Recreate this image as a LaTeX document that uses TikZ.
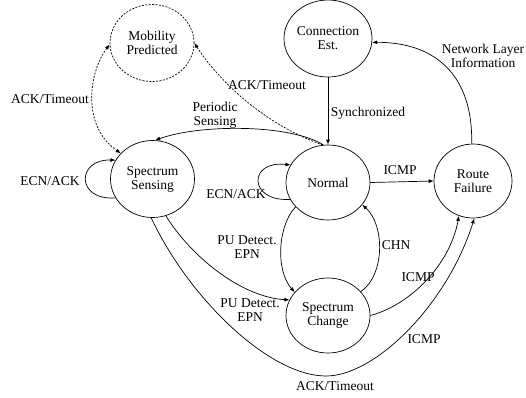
\documentclass[tikz,border=0pt]{standalone}
\usepackage{fontspec}
\setmainfont{Liberation Serif}
\usetikzlibrary{shapes.geometric,arrows.meta}
\begin{document}
\begin{tikzpicture}[x=1pt,y=-1pt,
  state/.style={draw,ellipse,line width=0.7pt,minimum width=84pt,minimum height=77pt,inner sep=0pt,align=center,font=\fontsize{13.5}{14}\selectfont},
  lbl/.style={align=center,inner sep=0pt,font=\fontsize{13.5}{14}\selectfont},
  edge/.style={line width=0.7pt,-{Latex[length=5pt,width=4pt]}},
  dashededge/.style={edge,dash pattern=on 2pt off 1.4pt}]
\useasboundingbox (0,0) rectangle (526,397);
\node[state,dashed,dash pattern=on 2pt off 1.4pt] (mob) at (152,43) {Mobility\\Predicted};
\node[state] (conn) at (328,38.5) {Connection\\Est.};
\node[state] (sens) at (152.5,179) {Spectrum\\Sensing};
\node[state,minimum height=75pt] (norm) at (328,182.5) {Normal};
\node[state,minimum width=78pt,minimum height=74pt] (route) at (473,181) {Route\\Failure};
\node[state,minimum height=75pt] (chg) at (328,315.5) {Spectrum\\Change};

% edges
\draw[dashededge,{Latex[length=5pt,width=4pt]}-{Latex[length=5pt,width=4pt]}] (mob.182) .. controls (90,70) and (80,125) .. (sens.141);
\draw[dashededge] (norm.98) .. controls (258,122) and (215,75) .. (mob.0);
\draw[edge] (conn.south) -- (norm.north);
\draw[edge] (norm.97) .. controls (290,124) and (200,124) .. (sens.86);
\draw[edge] (sens.207) .. controls (76,201) and (76,159) .. (sens.153);
\draw[edge] (norm.204) .. controls (248,202) and (248,160) .. (norm.155);
\draw[edge] (norm.east) -- (route.west);
\draw[edge] (route.92) .. controls (473,70) and (430,42) .. (conn.-5);
\draw[edge] (norm.217) .. controls (278,225) and (275,270) .. (chg.145);
\draw[edge] (chg.36) .. controls (385,275) and (385,225) .. (norm.-33);
\draw[edge] (sens.290) .. controls (190,255) and (240,297) .. (chg.158);
\coordinate (low) at (326,376);
\draw[edge] (sens.268) .. controls (190,300) and (270,376) .. (low) .. controls (375,376) and (447,305) .. (route.272);
\draw[edge] (chg.0) .. controls (410,305) and (450,265) .. (route.248);

% labels
\node[lbl] (l1) at (50,99) {ACK/Timeout};
\node[lbl] (l2) at (267,85) {ACK/Timeout};
\node[lbl] (l3) at (368,113) {Synchronized};
\node[lbl] (l4) at (215,115) {Periodic\\Sensing};
\node[lbl] (l5) at (50,181) {ECN/ACK};
\node[lbl] (l6) at (236,194) {ECN/ACK};
\node[lbl] (l7) at (400,170) {ICMP};
\node[lbl] (l8) at (483,56) {Network Layer\\Information};
\node[lbl] (l9) at (247,247) {PU Detect.\\EPN};
\node[lbl] (l10) at (396,245) {CHN};
\node[lbl] (l11) at (250,310) {PU Detect.\\EPN};
\node[lbl] (l12) at (418,277) {ICMP};
\node[lbl] (l13) at (424,339) {ICMP};
\node[lbl] (l14) at (335,386) {ACK/Timeout};
\end{tikzpicture}
\end{document}
